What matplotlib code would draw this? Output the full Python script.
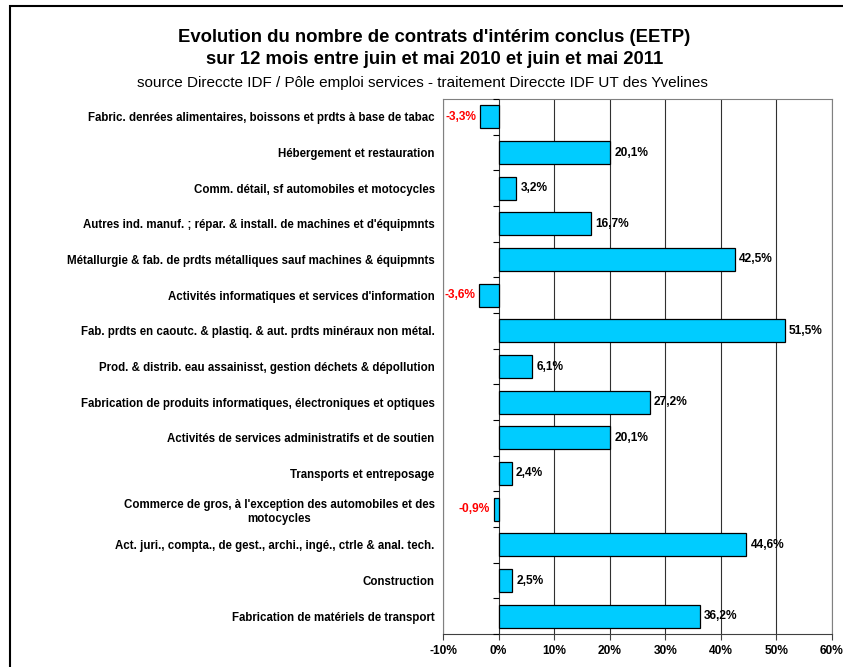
import numpy as np
import matplotlib
matplotlib.use('Agg')
import matplotlib.pyplot as plt
from matplotlib.patches import Rectangle

plt.rcParams['font.family'] = ['Liberation Sans', 'DejaVu Sans']

# Données
secteurs = [
    "Fabric. denrées alimentaires, boissons et prdts à base de tabac",
    "Hébergement et restauration",
    "Comm. détail, sf automobiles et motocycles",
    "Autres ind. manuf. ; répar. & install. de machines et d'équipmnts",
    "Métallurgie & fab. de prdts métalliques sauf machines & équipmnts",
    "Activités informatiques et services d'information",
    "Fab. prdts en caoutc. & plastiq. & aut. prdts minéraux non métal.",
    "Prod. & distrib. eau assainisst, gestion déchets & dépollution",
    "Fabrication de produits informatiques, électroniques et optiques",
    "Activités de services administratifs et de soutien",
    "Transports et entreposage",
    "Commerce de gros, à l'exception des automobiles et des\nmotocycles",
    "Act. juri., compta., de gest., archi., ingé., ctrle & anal. tech.",
    "Construction",
    "Fabrication de matériels de transport",
]
evolution = [-3.3, 20.1, 3.2, 16.7, 42.5, -3.6, 51.5, 6.1, 27.2, 20.1, 2.4, -0.9, 44.6, 2.5, 36.2]
ticks_x = [-10, 0, 10, 20, 30, 40, 50, 60]

fig = plt.figure(figsize=(8.43, 6.67), dpi=100)
ax = fig.add_axes([443 / 843, 33 / 667, 389 / 843, 535 / 667])

y = np.arange(len(secteurs))
ax.barh(y, evolution, height=0.65, color='#00CCFF', edgecolor='black', linewidth=0.9, zorder=3)

ax.set_xlim(-10, 60)
ax.set_ylim(len(secteurs) - 0.5, -0.5)
ax.set_xticks(ticks_x)
ax.set_xticklabels([f"{t}%" for t in ticks_x], fontsize=8.6, fontweight='bold')
ax.set_yticks(y)
ax.set_yticklabels(secteurs, fontsize=8.3, fontweight='bold', multialignment='center',
                   linespacing=1.25)
ax.tick_params(axis='y', length=0, pad=6)
ax.tick_params(axis='x', length=4, width=0.8, color='#404040', pad=4)
ax.grid(axis='x', color='#303030', linewidth=0.8, zorder=0)

for s in ['top', 'left', 'bottom', 'right']:
    ax.spines[s].set_color('#808080')
    ax.spines[s].set_linewidth(0.8)
ax.spines['bottom'].set_color('#404040')

# petites graduations sur l'axe zéro
limites = np.arange(len(secteurs) + 1) - 0.5
ax.plot(np.zeros(len(limites)), limites, ls='none', marker=0, markersize=4,
        color='black', markeredgewidth=0.8, zorder=4, clip_on=False)

for yi, v in zip(y, evolution):
    txt = f"{v:.1f}%".replace('.', ',')
    if v < 0:
        ax.annotate(txt, (v, yi), xytext=(-2.5, 0), textcoords='offset points',
                    ha='right', va='center', fontsize=8.6, fontweight='bold', color='red')
    else:
        ax.annotate(txt, (v, yi), xytext=(3, 0), textcoords='offset points',
                    ha='left', va='center', fontsize=8.6, fontweight='bold', color='black')

fig.text(0.515, 1 - 37 / 667, "Evolution du nombre de contrats d'intérim conclus (EETP)",
         ha='center', va='center', fontsize=13.3, fontweight='bold')
fig.text(0.515, 1 - 60 / 667, "sur 12 mois entre juin et mai 2010 et juin et mai 2011",
         ha='center', va='center', fontsize=13.3, fontweight='bold')
fig.text(0.501, 1 - 83 / 667,
         "source Direccte IDF / Pôle emploi services - traitement Direccte IDF UT des Yvelines",
         ha='center', va='center', fontsize=11)

# cadre
fig.patches.append(Rectangle((10 / 843, -0.1), 1.2, (667 - 6) / 667 + 0.1,
                             transform=fig.transFigure, fill=False,
                             edgecolor='black', linewidth=1.5))

fig.savefig('out.png', dpi=100)
